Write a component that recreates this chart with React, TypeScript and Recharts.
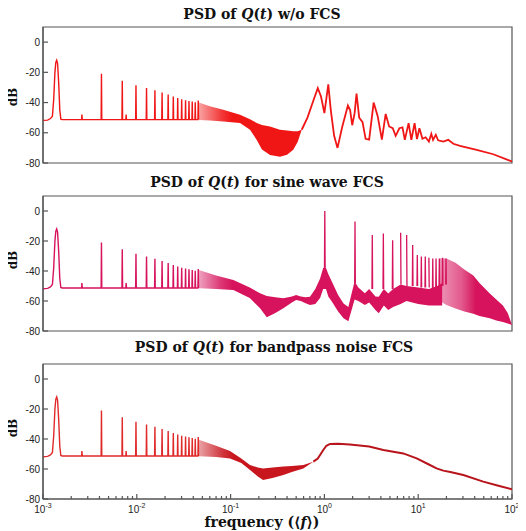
import React from "react";
import { ComposedChart, Line, Area, XAxis, YAxis, ReferenceArea } from "recharts";

// ---------- shared low-frequency structure (same in the three panels) ----------
const lowFreq = [0.001, 0.00112, 0.0012, 0.00126, 0.0013, 0.00134, 0.00137, 0.0014, 0.00143, 0.00147, 0.00151, 0.00155, 0.0016];
const lowDb = [-51.8, -51.6, -50.6, -49, -38, -20, -13.5, -12, -14, -27, -45, -51, -51.3];
const combFreq = [0.0026, 0.0042, 0.007, 0.0077, 0.0098, 0.0127, 0.0156, 0.0186, 0.0216, 0.0245, 0.0273, 0.0301, 0.0331, 0.036, 0.039, 0.042, 0.0452];
const combDb = [-48, -21, -25.5, -48, -28.5, -30.3, -31.8, -33.4, -34.7, -36, -37, -37.8, -38.4, -38.9, -39.3, -39.8, -38.7];
const combBaseDb = -51.3;

// ---------- panel 1 : w/o FCS ----------
const p1BandF = [0.046, 0.06, 0.0835, 0.126, 0.161, 0.19, 0.216, 0.263, 0.336, 0.4, 0.466, 0.52, 0.573];
const p1BandLo = [-51.5, -51.8, -52.5, -53.5, -58, -64.7, -71, -74.7, -75.8, -74.5, -71.3, -66, -58];
const p1BandHi = [-40, -42.5, -44.7, -48, -51, -53.5, -54.8, -55.8, -58, -58.5, -59, -59, -58];
const p1HighF = [0.573, 0.66, 0.76, 0.85, 0.92, 1.0, 1.1, 1.17, 1.27, 1.38, 1.55, 1.78, 1.88, 1.98, 2.1, 2.2, 2.35, 2.55, 2.75, 3.0, 3.35, 3.7, 4.1, 4.5, 4.9, 5.35, 5.75, 6.3, 6.8, 7.2, 7.9, 8.45, 9.15, 9.7, 10.3, 11.1, 12, 13, 13.8, 14.4, 15.4, 16.3, 18.5, 20.9, 23.7, 27.9, 42, 63.2, 100];
const p1HighDb = [-58, -50, -39, -30.5, -36, -47, -28, -45, -62, -70, -56, -42, -45, -55, -47, -34, -50, -53, -64, -64.5, -40, -49, -64.5, -47.5, -55.8, -57, -62, -57, -56.4, -64.7, -53.6, -64.7, -53.6, -64.2, -57, -64, -63, -65.8, -60.7, -64.7, -61.3, -65, -65.8, -64.7, -67.3, -68.7, -71.3, -74.2, -79];

// ---------- panel 2 : sine wave FCS ----------
const p2BandF = [0.046, 0.07, 0.107, 0.16, 0.206, 0.243, 0.3, 0.365, 0.45, 0.5, 0.56, 0.63, 0.702, 0.8, 0.9, 0.97, 1.04, 1.1, 1.2, 1.4, 1.6, 1.8, 1.95, 2.1, 2.3, 2.7, 3.0, 3.5, 3.8, 4.3, 4.8, 5.4, 6.5, 7.5, 10, 13, 16, 18];
const p2BandLo = [-51.5, -52, -52.7, -58, -64.9, -70.9, -68, -64.9, -61, -59.3, -60, -61.5, -62.7, -62, -58, -52, -52, -57, -60.4, -67, -71.5, -73.5, -66, -59, -60, -62.7, -61, -66, -68.2, -63, -66, -64, -62, -60, -62, -63, -63, -63];
const p2BandHi = [-39.3, -43, -46, -51, -54.9, -56.7, -57.5, -58.2, -57, -56, -57, -57.5, -57.1, -52, -45, -38, -38, -42, -47, -56, -61.6, -64, -55, -47, -51, -54.9, -52, -57, -57.1, -52, -55, -52, -49, -50, -51, -52, -50, -48];
const p2SpikeF = [1.01, 2.12, 3.24, 4.25, 5.34, 6.5, 7.53, 8.73, 9.78, 10.8, 11.9, 13.0, 14.3, 15.5, 16.8, 18.2, 19.8];
const p2SpikeDb = [0, -7, -16, -15, -19.5, -14.5, -16, -22.7, -29.3, -30.4, -30.4, -31.1, -31.6, -31.6, -31.6, -31.1, -31.6];
const p2SpikeBase = [-38, -48, -52, -52, -52, -49, -50, -50, -50, -51, -51, -51, -52, -52, -51, -50, -49];
const p2CombF = [17, 20, 25, 31, 38.7, 45, 58, 68, 80, 90, 100];
const p2CombLo = [-60, -62.7, -65, -67, -68.5, -70, -71.5, -73, -74, -75, -76];
const p2CombHi = [-31.5, -31.6, -34.5, -39, -43, -48, -55, -59, -63, -68, -76];

// ---------- panel 3 : bandpass noise FCS ----------
const p3BandF = [0.046, 0.07, 0.0985, 0.13, 0.161, 0.195, 0.222, 0.28, 0.365, 0.45, 0.596, 0.762];
const p3BandLo = [-51.5, -52, -53, -56, -60.7, -65, -67.3, -66, -64, -62, -59.6, -55.1];
const p3BandHi = [-40.5, -44.5, -48, -53, -57.3, -59, -59.6, -59, -58.4, -58, -57.3, -55.1];
const p3HighF = [0.762, 0.85, 0.973, 1.05, 1.15, 1.4, 1.87, 3.0, 4.25, 6.93, 9.64, 13, 15.7, 18.5, 22, 30.3, 49.4, 70, 100];
const p3HighDb = [-55.1, -53, -47.3, -44.5, -43.3, -43.2, -43.6, -45, -47.3, -49.6, -52.9, -57, -59.6, -61.1, -62, -64, -68.4, -71, -73.5];

// ---------- axes ----------
const yTicks = [-80, -60, -40, -20, 0];
const decades = [0.001, 0.01, 0.1, 1, 10];
const minorSteps = [1, 2, 3, 4, 5, 6, 7, 8, 9];
const xTicks = [...decades.flatMap((d) => minorSteps.map((m) => d * m)), 100];

type Row = { f: number; [k: string]: any };

function addLine(rows: Row[], key: string, fs: number[], ds: number[]) {
  fs.forEach((f, i) => rows.push({ f, [key]: ds[i] }));
}
function addRange(rows: Row[], key: string, fs: number[], lo: number[], hi: number[]) {
  fs.forEach((f, i) => rows.push({ f, [key]: [lo[i], hi[i]] }));
}
function addSpikes(rows: Row[], key: string, fs: number[], peaks: number[], bases: number[], gap: boolean) {
  fs.forEach((f, i) => {
    rows.push({ f: f / 1.008, [key]: bases[i] });
    rows.push({ f, [key]: peaks[i] });
    rows.push({ f: f * 1.008, [key]: bases[i] });
    if (gap) rows.push({ f: f * 1.01 });
  });
}

const rows1: Row[] = [];
addLine(rows1, "yL", lowFreq, lowDb);
addSpikes(rows1, "yL", combFreq, combDb, combFreq.map(() => combBaseDb), false);
addRange(rows1, "band", p1BandF, p1BandLo, p1BandHi);
addLine(rows1, "yH", p1HighF, p1HighDb);
rows1.sort((a, b) => a.f - b.f);

const rows2: Row[] = [];
addLine(rows2, "yL", lowFreq, lowDb);
addSpikes(rows2, "yL", combFreq, combDb, combFreq.map(() => combBaseDb), false);
addRange(rows2, "band", p2BandF, p2BandLo, p2BandHi);
addRange(rows2, "comb", p2CombF, p2CombLo, p2CombHi);
addSpikes(rows2, "spk", p2SpikeF, p2SpikeDb, p2SpikeBase, true);
rows2.sort((a, b) => a.f - b.f);

const rows3: Row[] = [];
addLine(rows3, "yL", lowFreq, lowDb);
addSpikes(rows3, "yL", combFreq, combDb, combFreq.map(() => combBaseDb), false);
addRange(rows3, "band", p3BandF, p3BandLo, p3BandHi);
addLine(rows3, "yH", p3HighF, p3HighDb);
rows3.sort((a, b) => a.f - b.f);

const AX = "#555";
const TICK_FONT = "'Liberation Sans', Arial, sans-serif";
const SERIF = "'DejaVu Serif', serif";

function isMajor(v: number) {
  const e = Math.log10(v);
  return Math.abs(e - Math.round(e)) < 1e-6;
}

function BottomTick(props: any) {
  const { x, y, payload, showLabel } = props;
  const v = Number(payload.value);
  const major = isMajor(v);
  return (
    <g>
      <path d={`M${x},${y}V${Number(y) - (major ? 5 : 3)}`} stroke={AX} strokeWidth={1.2} fill="none" />
      {showLabel && major ? (
        <text x={x} y={Number(y) + 14} textAnchor="middle" fontFamily={TICK_FONT} fontSize={10} fill="#222">
          10<tspan dy={-5} fontSize={7}>{String(Math.round(Math.log10(v)))}</tspan>
        </text>
      ) : null}
    </g>
  );
}
function LeftTick(props: any) {
  const { x, y, payload } = props;
  return (
    <g>
      <path d={`M${x},${y}H${Number(x) + 5}`} stroke={AX} strokeWidth={1.2} fill="none" />
      <text x={Number(x) - 3} y={Number(y) + 3.5} textAnchor="end" fontFamily={TICK_FONT} fontSize={10} fill="#222">
        {String(payload.value)}
      </text>
    </g>
  );
}

const C1 = "#f01616";
const C2 = "#d6135c";
const C3L = "#e02a2a";
const C3B = "#c8161e";
const C3H = "#b8141c";

function Panel(props: { rows: Row[]; height: number; top: number; bottom: number; xh: number; labels: boolean; children: React.ReactNode }) {
  return (
    <ComposedChart width={526} height={props.height} data={props.rows} margin={{ top: props.top, right: 14, bottom: props.bottom, left: 0 }}>
      <XAxis dataKey="f" type="number" scale="log" domain={[0.001, 100]} ticks={xTicks} allowDataOverflow interval={0}
        tickSize={0} tickMargin={0} height={props.xh} axisLine={{ stroke: AX, strokeWidth: 1.2 }} tickLine={false}
        tick={(p: any) => <BottomTick {...p} showLabel={props.labels} />} />
      <YAxis type="number" domain={[-80, 10]} ticks={yTicks} allowDataOverflow interval={0} tickSize={0} tickMargin={0}
        width={43} axisLine={{ stroke: AX, strokeWidth: 1.2 }} tickLine={false} tick={(p: any) => <LeftTick {...p} />} />
      <ReferenceArea x1={0.001} x2={100} y1={-80} y2={10} fill="none" stroke={AX} strokeWidth={1.2} ifOverflow="visible" />
      {props.children}
    </ComposedChart>
  );
}

const base = { isAnimationActive: false, dot: false, activeDot: false, type: "linear" as const };

export default function App() {
  return (
    <div style={{ position: "relative", marginLeft: -8, marginTop: -8, width: 526, height: 531 }}>
      <svg width={0} height={0} style={{ position: "absolute" }}>
        <defs>
          <linearGradient id="g1band" x1="0" y1="0" x2="1" y2="0">
            <stop offset="0" stopColor={C1} stopOpacity={0.4} />
            <stop offset="0.22" stopColor={C1} stopOpacity={0.85} />
            <stop offset="0.32" stopColor={C1} stopOpacity={1} />
            <stop offset="1" stopColor={C1} stopOpacity={1} />
          </linearGradient>
          <linearGradient id="g2band" x1="0" y1="0" x2="1" y2="0">
            <stop offset="0" stopColor={C2} stopOpacity={0.4} />
            <stop offset="0.09" stopColor={C2} stopOpacity={0.85} />
            <stop offset="0.14" stopColor={C2} stopOpacity={1} />
            <stop offset="1" stopColor={C2} stopOpacity={1} />
          </linearGradient>
          <linearGradient id="g2comb" x1="0" y1="0" x2="1" y2="0">
            <stop offset="0" stopColor={C2} stopOpacity={0.45} />
            <stop offset="0.3" stopColor={C2} stopOpacity={0.7} />
            <stop offset="0.5" stopColor={C2} stopOpacity={1} />
            <stop offset="1" stopColor={C2} stopOpacity={1} />
          </linearGradient>
          <linearGradient id="g3band" x1="0" y1="0" x2="1" y2="0">
            <stop offset="0" stopColor={C3B} stopOpacity={0.4} />
            <stop offset="0.2" stopColor={C3B} stopOpacity={0.85} />
            <stop offset="0.3" stopColor={C3B} stopOpacity={1} />
            <stop offset="1" stopColor={C3B} stopOpacity={1} />
          </linearGradient>
        </defs>
      </svg>

      <Panel rows={rows1} height={170} top={27} bottom={7} xh={0} labels={false}>
        <Area {...base} dataKey="band" stroke="none" fill="url(#g1band)" fillOpacity={1} connectNulls />
        <Line {...base} dataKey="yL" stroke={C1} strokeWidth={1.4} connectNulls />
        <Line {...base} dataKey="yH" stroke={C1} strokeWidth={1.8} connectNulls />
      </Panel>
      <Panel rows={rows2} height={170} top={26} bottom={9} xh={0} labels={false}>
        <Area {...base} dataKey="band" stroke="none" fill="url(#g2band)" fillOpacity={1} connectNulls />
        <Area {...base} dataKey="comb" stroke="none" fill="url(#g2comb)" fillOpacity={1} connectNulls />
        <Line {...base} dataKey="yL" stroke={C2} strokeWidth={1.4} connectNulls />
        <Line {...base} dataKey="spk" stroke={C2} strokeWidth={1.3} />
      </Panel>
      <Panel rows={rows3} height={191} top={24} bottom={0} xh={32} labels={true}>
        <Area {...base} dataKey="band" stroke="none" fill="url(#g3band)" fillOpacity={1} connectNulls />
        <Line {...base} dataKey="yL" stroke={C3L} strokeWidth={1.4} connectNulls />
        <Line {...base} dataKey="yH" stroke={C3H} strokeWidth={2} connectNulls />
      </Panel>

      <svg width={526} height={531} style={{ position: "absolute", left: 0, top: 0, pointerEvents: "none" }}>
        <g fontFamily={SERIF} fontWeight="bold" fontSize={14} fill="#111" textAnchor="middle">
          <text x={262} y={19}>PSD of <tspan fontStyle="italic">Q</tspan>(<tspan fontStyle="italic">t</tspan>) w/o FCS</text>
          <text x={267} y={187}>PSD of <tspan fontStyle="italic">Q</tspan>(<tspan fontStyle="italic">t</tspan>) for sine wave FCS</text>
          <text x={274} y={352}>PSD of <tspan fontStyle="italic">Q</tspan>(<tspan fontStyle="italic">t</tspan>) for bandpass noise FCS</text>
          <text x={262} y={527}>frequency (⟨<tspan fontStyle="italic">f</tspan>⟩)</text>
        </g>
        <g fontFamily={SERIF} fontWeight="bold" fontSize={12} fill="#111" textAnchor="middle">
          <text transform="translate(17,97) rotate(-90)">dB</text>
          <text transform="translate(17,260) rotate(-90)">dB</text>
          <text transform="translate(17,428) rotate(-90)">dB</text>
        </g>
      </svg>
    </div>
  );
}
